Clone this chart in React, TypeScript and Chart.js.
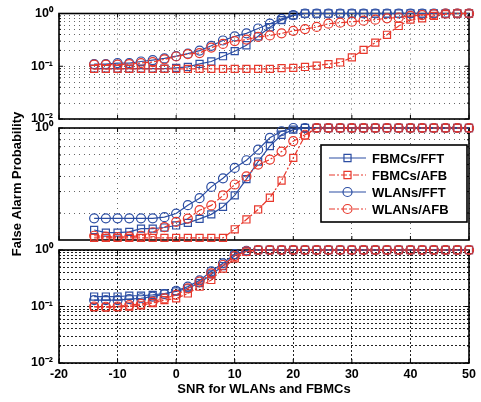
import React, { useEffect, useRef } from 'react';
import { Chart, registerables } from 'chart.js';
Chart.register(...registerables);

// ---------------- data ----------------
const snr = [-14, -12, -10, -8, -6, -4, -2, 0, 2, 4, 6, 8, 10, 12, 14, 16, 18, 20, 22, 24, 26, 28, 30, 32, 34, 36, 38, 40, 42, 44, 46, 48, 50];
const xTicks = [-20, -10, 0, 10, 20, 30, 40, 50];
const yTicksFull = [0.01, 0.02, 0.03, 0.04, 0.05, 0.06, 0.07, 0.08, 0.09, 0.1, 0.2, 0.3, 0.4, 0.5, 0.6, 0.7, 0.8, 0.9, 1];
const yTicksMid = [0.2, 0.3, 0.4, 0.5, 0.6, 0.7, 0.8, 0.9, 1];
const seriesLabels = ['FBMCs/FFT', 'FBMCs/AFB', 'WLANs/FFT', 'WLANs/AFB'];
const xTitle = 'SNR for WLANs and FBMCs';
const yTitle = 'False Alarm Probability';

// top panel
const topFbmcsFft = [0.09, 0.09, 0.09, 0.09, 0.09, 0.09, 0.09, 0.093, 0.097, 0.111, 0.123, 0.155, 0.193, 0.25, 0.37, 0.55, 0.75, 0.92, 1, 1, 1, 1, 1, 1, 1, 1, 1, 1, 1, 1, 1, 1, 1];
const topFbmcsAfb = [0.089, 0.089, 0.089, 0.089, 0.089, 0.089, 0.089, 0.089, 0.089, 0.089, 0.089, 0.089, 0.089, 0.089, 0.089, 0.089, 0.092, 0.093, 0.097, 0.103, 0.11, 0.118, 0.147, 0.204, 0.28, 0.395, 0.58, 0.765, 0.81, 0.9, 0.97, 1, 1];
const topWlansFft = [0.11, 0.11, 0.115, 0.115, 0.123, 0.131, 0.141, 0.155, 0.173, 0.198, 0.244, 0.308, 0.368, 0.42, 0.52, 0.64, 0.79, 0.93, 1, 1, 1, 1, 1, 1, 1, 1, 1, 1, 1, 1, 1, 1, 1];
const topWlansAfb = [0.107, 0.107, 0.107, 0.11, 0.115, 0.12, 0.135, 0.153, 0.17, 0.178, 0.226, 0.265, 0.3, 0.32, 0.36, 0.384, 0.42, 0.47, 0.506, 0.556, 0.64, 0.67, 0.7, 0.73, 0.765, 0.81, 0.84, 0.9, 0.93, 0.97, 1, 1, 1];

// middle panel
const midFbmcsFft = [0.145, 0.138, 0.138, 0.14, 0.149, 0.149, 0.152, 0.158, 0.166, 0.179, 0.195, 0.225, 0.279, 0.38, 0.53, 0.71, 0.88, 0.97, 1, 1, 1, 1, 1, 1, 1, 1, 1, 1, 1, 1, 1, 1, 1];
const midFbmcsAfb = [0.125, 0.125, 0.125, 0.125, 0.125, 0.125, 0.125, 0.125, 0.125, 0.125, 0.125, 0.125, 0.147, 0.177, 0.214, 0.267, 0.37, 0.568, 0.865, 1, 1, 1, 1, 1, 1, 1, 1, 1, 1, 1, 1, 1, 1];
const midWlansFft = [0.181, 0.181, 0.181, 0.181, 0.181, 0.181, 0.185, 0.198, 0.232, 0.265, 0.328, 0.386, 0.47, 0.543, 0.664, 0.83, 0.94, 1, 1, 1, 1, 1, 1, 1, 1, 1, 1, 1, 1, 1, 1, 1, 1];
const midWlansAfb = [0.13, 0.128, 0.127, 0.128, 0.13, 0.139, 0.153, 0.169, 0.18, 0.211, 0.231, 0.279, 0.343, 0.4, 0.5, 0.55, 0.64, 0.78, 0.88, 1, 1, 1, 1, 1, 1, 1, 1, 1, 1, 1, 1, 1, 1];

// bottom panel
const botFbmcsFft = [0.15, 0.15, 0.15, 0.155, 0.155, 0.16, 0.17, 0.185, 0.21, 0.26, 0.37, 0.52, 0.8, 0.95, 1, 1, 1, 1, 1, 1, 1, 1, 1, 1, 1, 1, 1, 1, 1, 1, 1, 1, 1];
const botFbmcsAfb = [0.098, 0.097, 0.098, 0.1, 0.105, 0.115, 0.13, 0.139, 0.17, 0.224, 0.295, 0.47, 0.71, 0.93, 1, 1, 1, 1, 1, 1, 1, 1, 1, 1, 1, 1, 1, 1, 1, 1, 1, 1, 1];
const botWlansFft = [0.13, 0.13, 0.13, 0.135, 0.14, 0.15, 0.165, 0.19, 0.225, 0.29, 0.42, 0.58, 0.85, 0.97, 1, 1, 1, 1, 1, 1, 1, 1, 1, 1, 1, 1, 1, 1, 1, 1, 1, 1, 1];
const botWlansAfb = [0.1, 0.099, 0.1, 0.106, 0.111, 0.122, 0.139, 0.16, 0.21, 0.275, 0.387, 0.543, 0.78, 0.95, 1, 1, 1, 1, 1, 1, 1, 1, 1, 1, 1, 1, 1, 1, 1, 1, 1, 1, 1];

// ---------------- styles ----------------
const W = 481;
const H = 402;
const BLUE = '#2c4ea3';
const RED = '#e8382c';
const FONT = '"Liberation Sans", Arial, Helvetica, sans-serif';
const DASHDOT = [6, 2, 2, 2];
const TICK_SIZE = 12.5;
const TITLE_SIZE = 13;

const seriesStyles = [
  { color: BLUE, pointStyle: 'rect', radius: 5, dash: [] as number[] },
  { color: RED, pointStyle: 'rect', radius: 5, dash: DASHDOT },
  { color: BLUE, pointStyle: 'circle', radius: 4.5, dash: [] as number[] },
  { color: RED, pointStyle: 'circle', radius: 4.5, dash: DASHDOT },
];

const panels = [
  { series: [topFbmcsFft, topFbmcsAfb, topWlansFft, topWlansAfb], yMin: 0.01, yMax: 1, yTicks: yTicksFull, top: 8, bottom: 119, xLabels: false, legend: false, yTitle: false, gridColor: '#666', gridDash: [1, 4] },
  { series: [midFbmcsFft, midFbmcsAfb, midWlansFft, midWlansAfb], yMin: 0.12, yMax: 1, yTicks: yTicksMid, top: 128, bottom: 240, xLabels: false, legend: true, yTitle: true, gridColor: '#666', gridDash: [1, 4] },
  { series: [botFbmcsFft, botFbmcsAfb, botWlansFft, botWlansAfb], yMin: 0.01, yMax: 1, yTicks: yTicksFull, top: 250, bottom: 363, xLabels: true, legend: false, yTitle: false, gridColor: '#222', gridDash: [2, 2] },
];

const SUP: Record<string, string> = { '0': '\u2070', '1': '\u00b9', '2': '\u00b2', '-': '\u207b' };
function logLabel(v: number): string {
  const e = Math.log10(v);
  const r = Math.round(e);
  if (Math.abs(e - r) > 1e-6) return '';
  return '10' + String(r).split('').map((c) => SUP[c]).join('');
}

const boxPlugin = {
  id: 'matlabBox',
  beforeDatasetsDraw(chart: any) {
    const { ctx, chartArea: a, scales } = chart;
    ctx.save();
    ctx.strokeStyle = '#000';
    ctx.lineWidth = 1;
    ctx.setLineDash([]);
    ctx.beginPath();
    for (const t of xTicks) {
      const px = scales.x.getPixelForValue(t);
      ctx.moveTo(px, a.bottom);
      ctx.lineTo(px, a.bottom - 4);
      ctx.moveTo(px, a.top);
      ctx.lineTo(px, a.top + 4);
    }
    for (const t of scales.y.ticks) {
      const py = scales.y.getPixelForValue(t.value);
      const len = logLabel(t.value) ? 4 : 2;
      ctx.moveTo(a.left, py);
      ctx.lineTo(a.left + len, py);
      ctx.moveTo(a.right, py);
      ctx.lineTo(a.right - len, py);
    }
    ctx.stroke();
    ctx.lineWidth = 1.6;
    ctx.strokeRect(a.left, a.top, a.right - a.left, a.bottom - a.top);
    ctx.restore();
  },
};

const legendPlugin = {
  id: 'matlabLegend',
  afterDraw(chart: any) {
    const opts = chart.options.plugins.matlabLegend;
    if (!opts || !opts.show) return;
    const { ctx, chartArea: a } = chart;
    const bw = 146;
    const bh = 77;
    const bx = a.right - 2 - bw;
    const by = a.top + 17;
    ctx.save();
    ctx.fillStyle = '#fff';
    ctx.fillRect(bx, by, bw, bh);
    ctx.strokeStyle = '#000';
    ctx.lineWidth = 1.6;
    ctx.strokeRect(bx, by, bw, bh);
    const rowH = 17;
    chart.data.datasets.forEach((ds: any, i: number) => {
      const st = seriesStyles[i];
      const cy = by + 13 + i * rowH;
      ctx.strokeStyle = st.color;
      ctx.lineWidth = 1.2;
      ctx.setLineDash(st.dash);
      ctx.beginPath();
      ctx.moveTo(bx + 8, cy);
      ctx.lineTo(bx + 45, cy);
      ctx.stroke();
      ctx.setLineDash([]);
      const mx = bx + 26.5;
      ctx.beginPath();
      if (st.pointStyle === 'rect') {
        const s = st.radius * Math.SQRT1_2;
        ctx.rect(mx - s, cy - s, 2 * s, 2 * s);
      } else {
        ctx.arc(mx, cy, st.radius, 0, Math.PI * 2);
      }
      ctx.stroke();
      ctx.fillStyle = '#000';
      ctx.font = 'bold 13px ' + FONT;
      ctx.textAlign = 'left';
      ctx.textBaseline = 'middle';
      ctx.fillText(ds.label, bx + 51, cy + 1);
    });
    ctx.restore();
  },
};

function makeChart(canvas: HTMLCanvasElement, p: (typeof panels)[number]) {
  const xAxisH = p.xLabels ? 34 : 0;
  const datasets = p.series.map((vals, i) => {
    const st = seriesStyles[i];
    return {
      label: seriesLabels[i],
      data: snr.map((x, j) => ({ x, y: vals[j] })),
      borderColor: st.color,
      borderWidth: 1.2,
      borderDash: st.dash,
      pointStyle: st.pointStyle,
      pointRadius: st.radius,
      pointBorderColor: st.color,
      pointBackgroundColor: 'rgba(0,0,0,0)',
      pointBorderWidth: 1.2,
      fill: false,
      tension: 0,
      clip: false,
      order: 3 - i,
    };
  });
  return new Chart(canvas, {
    type: 'line',
    data: { datasets },
    plugins: [boxPlugin, legendPlugin],
    options: {
      animation: false,
      responsive: false,
      devicePixelRatio: 1,
      events: [],
      layout: { padding: { left: 9, right: W - 469, top: p.top, bottom: H - p.bottom - xAxisH } },
      plugins: {
        legend: { display: false },
        tooltip: { enabled: false },
        matlabLegend: { show: p.legend },
      } as any,
      scales: {
        x: {
          type: 'linear',
          min: -20,
          max: 50,
          afterBuildTicks: (s: any) => { s.ticks = xTicks.map((v) => ({ value: v })); },
          afterFit: (s: any) => { s.height = xAxisH; },
          ticks: { display: p.xLabels, padding: 4, color: '#000', font: { family: FONT, size: TICK_SIZE, weight: 'bold' }, autoSkip: false, maxRotation: 0 },
          grid: { display: true, drawTicks: false, color: p.gridColor, lineWidth: 1 },
          border: { display: false, dash: p.gridDash },
          title: { display: p.xLabels, text: xTitle, color: '#000', padding: { top: 0, bottom: 0 }, font: { family: FONT, size: TITLE_SIZE, weight: 'bold' } },
        },
        y: {
          type: 'logarithmic',
          min: p.yMin,
          max: p.yMax,
          afterBuildTicks: (s: any) => { s.ticks = p.yTicks.map((v) => ({ value: v })); },
          afterFit: (s: any) => { s.width = 50; },
          ticks: { callback: (v: any) => logLabel(Number(v)), padding: 6, color: '#000', autoSkip: false, font: { family: FONT, size: TICK_SIZE, weight: 'bold' } },
          grid: { display: true, drawTicks: false, color: p.gridColor, lineWidth: 1 },
          border: { display: false, dash: p.gridDash },
          title: { display: p.yTitle, text: yTitle, color: '#000', padding: { top: 1, bottom: 0 }, font: { family: FONT, size: TITLE_SIZE, weight: 'bold' } },
        },
      },
    } as any,
  });
}

export default function App() {
  const r0 = useRef<HTMLCanvasElement>(null);
  const r1 = useRef<HTMLCanvasElement>(null);
  const r2 = useRef<HTMLCanvasElement>(null);
  useEffect(() => {
    const refs = [r0, r1, r2];
    const charts = panels.map((p, i) => makeChart(refs[i].current as HTMLCanvasElement, p));
    return () => charts.forEach((c) => c.destroy());
  }, []);
  const cs: React.CSSProperties = { position: 'absolute', left: 0, top: 0, width: W, height: H };
  return (
    <div style={{ position: 'fixed', left: 0, top: 0, width: W, height: H, background: '#fff' }}>
      <canvas ref={r0} width={W} height={H} style={cs} />
      <canvas ref={r1} width={W} height={H} style={cs} />
      <canvas ref={r2} width={W} height={H} style={cs} />
    </div>
  );
}
